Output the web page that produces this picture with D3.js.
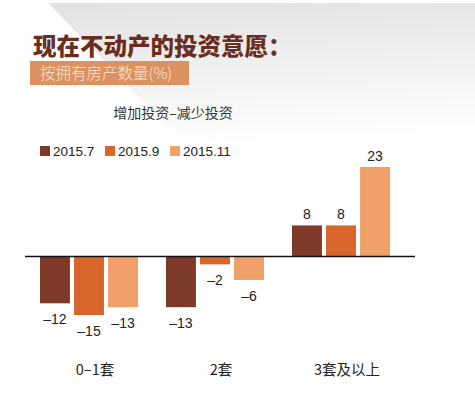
<!DOCTYPE html>
<html>
<head>
<meta charset="utf-8">
<script src="https://cdn.jsdelivr.net/npm/d3@7.9.0/dist/d3.min.js"></script>
<style>
  html, body { margin: 0; padding: 0; background: #fff; }
  svg { display: block; }
</style>
</head>
<body>
<div id="chart"></div>
<script>
const categories = ["0–1套", "2套", "3套及以上"];
const seriesNames = ["2015.7", "2015.9", "2015.11"];
const values2015_7 = [-12, -13, 8];
const values2015_9 = [-15, -2, 8];
const values2015_11 = [-13, -6, 23];
const colors = ["#7e3a28", "#d8652b", "#f0a069"];

const seriesValues = [values2015_7, values2015_9, values2015_11];
const rows = categories.map((c, i) => ({
  category: c,
  values: seriesNames.map((s, j) => ({ series: s, value: seriesValues[j][i] })),
}));

const width = 475;
const height = 397;

const svg = d3.select("#chart").append("svg")
  .attr("width", width)
  .attr("height", height)
  .style("font-family", "'Noto Sans CJK SC', 'Noto Sans', sans-serif");

// background grey sweep
const defs = svg.append("defs");
const grad = defs.append("linearGradient")
  .attr("id", "bg")
  .attr("x1", 0).attr("y1", 0).attr("x2", 0.15).attr("y2", 1);
grad.append("stop").attr("offset", 0).attr("stop-color", "#e2e2e2");
grad.append("stop").attr("offset", 0.6).attr("stop-color", "#f3f3f3");
grad.append("stop").attr("offset", 1).attr("stop-color", "#ffffff");

svg.append("path")
  .attr("d", "M48,3 L475,3 L475,150 L190,150 Z")
  .attr("fill", "url(#bg)");

// title
svg.append("text")
  .attr("x", 33)
  .attr("y", 55)
  .attr("font-size", 23.5)
  .attr("font-weight", 900)
  .attr("fill", "#6a2e20")
  .text("现在不动产的投资意愿：");

svg.append("rect")
  .attr("x", 30).attr("y", 61)
  .attr("width", 159).attr("height", 24)
  .attr("fill", "#dc9161");

svg.append("text")
  .attr("x", 40)
  .attr("y", 79)
  .attr("font-size", 15.5)
  .attr("font-weight", 300)
  .attr("fill", "#fbe6d6")
  .text("按拥有房产数量(%)");

svg.append("text")
  .attr("x", 173)
  .attr("y", 118)
  .attr("text-anchor", "middle")
  .attr("font-size", 14)
  .attr("fill", "#333")
  .text("增加投资–减少投资");

// legend
const legendX = [40, 105, 170];
const legend = svg.append("g").selectAll("g")
  .data(seriesNames)
  .join("g")
  .attr("transform", (d, i) => `translate(${legendX[i]},146)`);
legend.append("rect")
  .attr("width", 10).attr("height", 10)
  .attr("fill", (d, i) => colors[i]);
legend.append("text")
  .attr("x", 13)
  .attr("y", 10)
  .attr("font-family", "'Liberation Sans', sans-serif")
  .attr("font-size", 13.5)
  .attr("fill", "#222")
  .text((d) => d);

// scales
const x0 = d3.scaleBand()
  .domain(categories)
  .range([26, 404])
  .paddingInner(0.222)
  .paddingOuter(0.111);

const x1 = d3.scaleBand()
  .domain(seriesNames)
  .range([0, x0.bandwidth()])
  .paddingInner(0.12);

const color = d3.scaleOrdinal().domain(seriesNames).range(colors);

const y = d3.scaleLinear()
  .domain([-15, 23])
  .range([315, 167]);

const groups = svg.append("g").selectAll("g")
  .data(rows)
  .join("g")
  .attr("transform", (d) => `translate(${x0(d.category)},0)`);

groups.selectAll("rect")
  .data((d) => d.values)
  .join("rect")
  .attr("x", (d) => x1(d.series))
  .attr("y", (d) => y(Math.max(0, d.value)))
  .attr("width", x1.bandwidth())
  .attr("height", (d) => Math.abs(y(d.value) - y(0)))
  .attr("fill", (d) => color(d.series));

groups.selectAll("text")
  .data((d) => d.values)
  .join("text")
  .attr("x", (d) => x1(d.series) + x1.bandwidth() / 2)
  .attr("y", (d) => d.value >= 0 ? y(d.value) - 6 : y(d.value) + 21)
  .attr("text-anchor", "middle")
  .attr("font-family", "'Liberation Sans', sans-serif")
  .attr("font-size", 14)
  .attr("fill", "#222")
  .text((d) => d.value < 0 ? "–" + Math.abs(d.value) : d.value);

// zero line
svg.append("line")
  .attr("x1", 25).attr("x2", 415)
  .attr("y1", y(0)).attr("y2", y(0))
  .attr("stroke", "#111")
  .attr("stroke-width", 1.5);

// category axis
svg.append("g")
  .attr("transform", "translate(6,375)")
  .call(d3.axisBottom(x0).tickSize(0).tickPadding(0))
  .call((g) => g.select(".domain").remove())
  .call((g) => g.selectAll("text")
    .attr("dy", 0)
    .attr("font-size", 14.5)
    .attr("font-family", "'Noto Sans CJK SC', sans-serif")
    .attr("fill", "#222"));
</script>
</body>
</html>
